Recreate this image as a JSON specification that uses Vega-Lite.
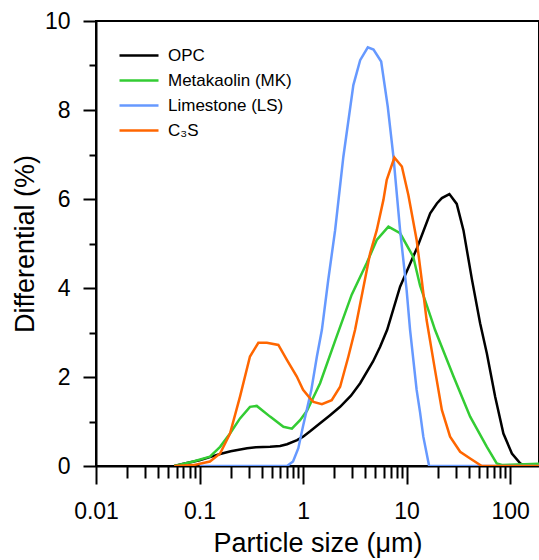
{
  "$schema": "https://vega.github.io/schema/vega-lite/v6.json",
  "width": 443,
  "height": 445,
  "autosize": {"type": "none"},
  "padding": {"left": 96, "top": 21, "right": 0, "bottom": 94},
  "background": "white",
  "config": {"font": "Liberation Sans", "view": {"stroke": "black", "strokeWidth": 2}},
  "datasets": {
    "psd": [
      {"s": "OPC", "x": 0.057, "y": 0},
      {"s": "OPC", "x": 0.07, "y": 0.05},
      {"s": "OPC", "x": 0.1, "y": 0.13},
      {"s": "OPC", "x": 0.126, "y": 0.2},
      {"s": "OPC", "x": 0.158, "y": 0.27},
      {"s": "OPC", "x": 0.2, "y": 0.33},
      {"s": "OPC", "x": 0.288, "y": 0.4},
      {"s": "OPC", "x": 0.35, "y": 0.42},
      {"s": "OPC", "x": 0.48, "y": 0.43},
      {"s": "OPC", "x": 0.6, "y": 0.45},
      {"s": "OPC", "x": 0.7, "y": 0.49},
      {"s": "OPC", "x": 0.875, "y": 0.58},
      {"s": "OPC", "x": 1.0, "y": 0.66},
      {"s": "OPC", "x": 1.17, "y": 0.78},
      {"s": "OPC", "x": 1.46, "y": 0.96},
      {"s": "OPC", "x": 1.8, "y": 1.13},
      {"s": "OPC", "x": 2.28, "y": 1.33},
      {"s": "OPC", "x": 2.9, "y": 1.58},
      {"s": "OPC", "x": 3.56, "y": 1.86},
      {"s": "OPC", "x": 4.74, "y": 2.35},
      {"s": "OPC", "x": 5.55, "y": 2.68},
      {"s": "OPC", "x": 6.49, "y": 3.06},
      {"s": "OPC", "x": 8.65, "y": 4.03},
      {"s": "OPC", "x": 12.6, "y": 4.9},
      {"s": "OPC", "x": 16.9, "y": 5.68},
      {"s": "OPC", "x": 19.6, "y": 5.9},
      {"s": "OPC", "x": 21.9, "y": 6.02},
      {"s": "OPC", "x": 25.9, "y": 6.11},
      {"s": "OPC", "x": 30.5, "y": 5.89},
      {"s": "OPC", "x": 35.4, "y": 5.3},
      {"s": "OPC", "x": 42.7, "y": 4.2},
      {"s": "OPC", "x": 51.3, "y": 3.21},
      {"s": "OPC", "x": 59.6, "y": 2.53},
      {"s": "OPC", "x": 71.6, "y": 1.56},
      {"s": "OPC", "x": 86.1, "y": 0.73},
      {"s": "OPC", "x": 104, "y": 0.28},
      {"s": "OPC", "x": 125, "y": 0.06},
      {"s": "OPC", "x": 140, "y": 0},
      {"s": "OPC", "x": 200, "y": 0},
      {"s": "Metakaolin (MK)", "x": 0.057, "y": 0},
      {"s": "Metakaolin (MK)", "x": 0.087, "y": 0.1},
      {"s": "Metakaolin (MK)", "x": 0.126, "y": 0.21},
      {"s": "Metakaolin (MK)", "x": 0.158, "y": 0.43},
      {"s": "Metakaolin (MK)", "x": 0.197, "y": 0.73},
      {"s": "Metakaolin (MK)", "x": 0.246, "y": 1.07},
      {"s": "Metakaolin (MK)", "x": 0.307, "y": 1.33},
      {"s": "Metakaolin (MK)", "x": 0.357, "y": 1.35},
      {"s": "Metakaolin (MK)", "x": 0.48, "y": 1.11},
      {"s": "Metakaolin (MK)", "x": 0.646, "y": 0.88},
      {"s": "Metakaolin (MK)", "x": 0.78, "y": 0.84},
      {"s": "Metakaolin (MK)", "x": 0.935, "y": 1.03},
      {"s": "Metakaolin (MK)", "x": 1.09, "y": 1.24},
      {"s": "Metakaolin (MK)", "x": 1.46, "y": 1.86},
      {"s": "Metakaolin (MK)", "x": 2.05, "y": 2.83},
      {"s": "Metakaolin (MK)", "x": 2.95, "y": 3.85},
      {"s": "Metakaolin (MK)", "x": 4.12, "y": 4.56},
      {"s": "Metakaolin (MK)", "x": 5.15, "y": 5.08},
      {"s": "Metakaolin (MK)", "x": 6.67, "y": 5.38},
      {"s": "Metakaolin (MK)", "x": 8.65, "y": 5.23},
      {"s": "Metakaolin (MK)", "x": 11.6, "y": 4.7},
      {"s": "Metakaolin (MK)", "x": 13.5, "y": 4.05},
      {"s": "Metakaolin (MK)", "x": 17.5, "y": 3.28},
      {"s": "Metakaolin (MK)", "x": 18.8, "y": 3.06},
      {"s": "Metakaolin (MK)", "x": 28.4, "y": 2.01},
      {"s": "Metakaolin (MK)", "x": 41.1, "y": 1.11},
      {"s": "Metakaolin (MK)", "x": 59.6, "y": 0.43},
      {"s": "Metakaolin (MK)", "x": 74.2, "y": 0.06},
      {"s": "Metakaolin (MK)", "x": 85, "y": 0.02},
      {"s": "Metakaolin (MK)", "x": 100, "y": 0.03},
      {"s": "Metakaolin (MK)", "x": 200, "y": 0.05},
      {"s": "Limestone (LS)", "x": 0.1, "y": 0},
      {"s": "Limestone (LS)", "x": 0.7, "y": 0},
      {"s": "Limestone (LS)", "x": 0.8, "y": 0.1},
      {"s": "Limestone (LS)", "x": 0.9, "y": 0.4},
      {"s": "Limestone (LS)", "x": 1.0, "y": 0.9},
      {"s": "Limestone (LS)", "x": 1.2, "y": 1.7},
      {"s": "Limestone (LS)", "x": 1.36, "y": 2.46},
      {"s": "Limestone (LS)", "x": 1.52, "y": 3.06},
      {"s": "Limestone (LS)", "x": 1.75, "y": 4.18},
      {"s": "Limestone (LS)", "x": 2.04, "y": 5.3},
      {"s": "Limestone (LS)", "x": 2.45, "y": 6.95},
      {"s": "Limestone (LS)", "x": 3.06, "y": 8.56},
      {"s": "Limestone (LS)", "x": 3.56, "y": 9.12},
      {"s": "Limestone (LS)", "x": 4.22, "y": 9.41},
      {"s": "Limestone (LS)", "x": 4.79, "y": 9.36},
      {"s": "Limestone (LS)", "x": 5.68, "y": 9.09},
      {"s": "Limestone (LS)", "x": 6.58, "y": 8.07},
      {"s": "Limestone (LS)", "x": 7.46, "y": 6.95},
      {"s": "Limestone (LS)", "x": 8.65, "y": 5.3},
      {"s": "Limestone (LS)", "x": 10, "y": 3.96},
      {"s": "Limestone (LS)", "x": 10.8, "y": 3.06},
      {"s": "Limestone (LS)", "x": 12.5, "y": 1.71},
      {"s": "Limestone (LS)", "x": 13.5, "y": 1.2},
      {"s": "Limestone (LS)", "x": 14.5, "y": 0.66},
      {"s": "Limestone (LS)", "x": 16.5, "y": 0},
      {"s": "Limestone (LS)", "x": 200, "y": 0},
      {"s": "C₃S", "x": 0.057, "y": 0},
      {"s": "C₃S", "x": 0.087, "y": 0.02},
      {"s": "C₃S", "x": 0.126, "y": 0.1},
      {"s": "C₃S", "x": 0.158, "y": 0.28},
      {"s": "C₃S", "x": 0.197, "y": 0.73},
      {"s": "C₃S", "x": 0.246, "y": 1.56},
      {"s": "C₃S", "x": 0.307, "y": 2.46},
      {"s": "C₃S", "x": 0.37, "y": 2.77},
      {"s": "C₃S", "x": 0.447, "y": 2.77},
      {"s": "C₃S", "x": 0.577, "y": 2.72},
      {"s": "C₃S", "x": 0.7, "y": 2.38},
      {"s": "C₃S", "x": 0.87, "y": 2.01},
      {"s": "C₃S", "x": 1.0, "y": 1.71},
      {"s": "C₃S", "x": 1.17, "y": 1.52},
      {"s": "C₃S", "x": 1.26, "y": 1.44},
      {"s": "C₃S", "x": 1.52, "y": 1.39},
      {"s": "C₃S", "x": 1.89, "y": 1.48},
      {"s": "C₃S", "x": 2.28, "y": 1.78},
      {"s": "C₃S", "x": 2.74, "y": 2.46},
      {"s": "C₃S", "x": 3.18, "y": 3.06},
      {"s": "C₃S", "x": 4.44, "y": 4.78},
      {"s": "C₃S", "x": 5.15, "y": 5.3},
      {"s": "C₃S", "x": 5.97, "y": 5.98},
      {"s": "C₃S", "x": 6.43, "y": 6.43},
      {"s": "C₃S", "x": 7.62, "y": 6.93},
      {"s": "C₃S", "x": 9.0, "y": 6.73},
      {"s": "C₃S", "x": 10.4, "y": 6.09},
      {"s": "C₃S", "x": 12.5, "y": 5.08},
      {"s": "C₃S", "x": 14.0, "y": 4.18},
      {"s": "C₃S", "x": 15.6, "y": 3.28},
      {"s": "C₃S", "x": 18.8, "y": 2.16},
      {"s": "C₃S", "x": 21.9, "y": 1.26},
      {"s": "C₃S", "x": 26.3, "y": 0.66},
      {"s": "C₃S", "x": 32.9, "y": 0.32},
      {"s": "C₃S", "x": 41.1, "y": 0.17},
      {"s": "C₃S", "x": 53.2, "y": 0},
      {"s": "C₃S", "x": 200, "y": 0}
    ]
  },
  "data": {"name": "psd"},
  "mark": {"type": "line", "strokeWidth": 2.5, "clip": true},
  "encoding": {
    "x": {
      "field": "x",
      "type": "quantitative",
      "scale": {"type": "log", "domain": [0.01, 190], "nice": false},
      "axis": {
        "values": [0.01, 0.02, 0.03, 0.04, 0.05, 0.06, 0.07, 0.08, 0.09, 0.1, 0.2, 0.3, 0.4, 0.5, 0.6, 0.7, 0.8, 0.9, 1, 2, 3, 4, 5, 6, 7, 8, 9, 10, 20, 30, 40, 50, 60, 70, 80, 90, 100],
        "labelExpr": "indexof([0.01, 0.1, 1, 10, 100], datum.value) >= 0 ? format(datum.value, '~g') : ''",
        "labelOverlap": false,
        "labelFlush": false,
        "labelBound": false,
        "labelFontSize": 23,
        "labelColor": "black",
        "labelPadding": 16,
        "tickSize": {"condition": {"test": "indexof([0.01, 0.1, 1, 10, 100], datum.value) >= 0", "value": 18}, "value": 12},
        "tickColor": "black",
        "tickWidth": 2,
        "domainColor": "black",
        "domainWidth": 2,
        "grid": false,
        "title": "Particle size (μm)",
        "titleFontSize": 27,
        "titleFontWeight": "normal",
        "titleColor": "black",
        "titleBaseline": "alphabetic",
        "titleY": 85
      }
    },
    "y": {
      "field": "y",
      "type": "quantitative",
      "scale": {"domain": [0, 10], "nice": false},
      "axis": {
        "values": [0, 1, 2, 3, 4, 5, 6, 7, 8, 9, 10],
        "labelExpr": "datum.value % 2 == 0 ? datum.label : ''",
        "labelOverlap": false,
        "labelFlush": false,
        "labelFontSize": 23,
        "labelColor": "black",
        "labelPadding": 13,
        "tickSize": {"condition": {"test": "datum.value % 2 == 0", "value": 13}, "value": 7},
        "tickColor": "black",
        "tickWidth": 2,
        "domainColor": "black",
        "domainWidth": 2,
        "grid": false,
        "title": "Differential (%)",
        "titleFontSize": 27,
        "titleFontWeight": "normal",
        "titleColor": "black",
        "titleBaseline": "alphabetic",
        "titleAngle": -90,
        "titleX": -63,
        "titleY": 222.5
      }
    },
    "color": {
      "field": "s",
      "type": "nominal",
      "sort": null,
      "scale": {
        "domain": ["OPC", "Metakaolin (MK)", "Limestone (LS)", "C₃S"],
        "range": ["#000000", "#33cc33", "#6699ff", "#ff6600"]
      },
      "legend": {
        "orient": "none",
        "legendX": 22,
        "legendY": 22,
        "title": null,
        "symbolType": "stroke",
        "symbolSize": 1521,
        "symbolStrokeWidth": 2.5,
        "clipHeight": 25,
        "labelFontSize": 17,
        "labelColor": "black",
        "labelOffset": 8,
        "rowPadding": 0
      }
    }
  }
}
